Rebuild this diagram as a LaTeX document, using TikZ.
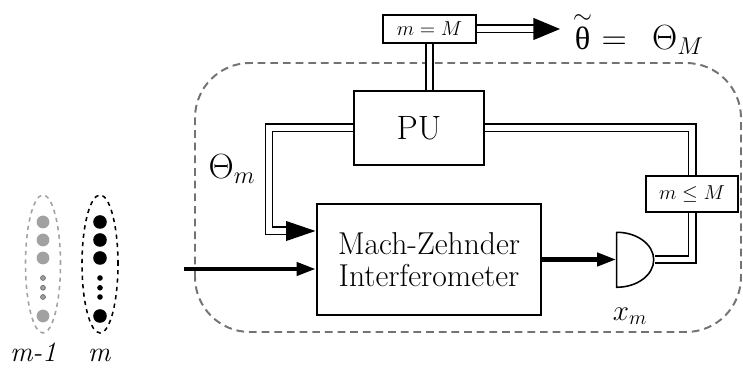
\documentclass[tikz,border=0pt]{standalone}
\usepackage{amsmath, amssymb}
\usepackage{fontspec}
\newfontfamily\grkfont{Liberation Serif}
\usepackage{xcolor}
\usepackage{tikz}
\usetikzlibrary{arrows.meta, positioning, calc}
\definecolor{dotgray}{gray}{0.63}
\definecolor{framegray}{gray}{0.45}
\tikzset{
    block/.style={rectangle, draw, line width=1.1pt, fill=white, inner sep=0pt},
    testbox/.style={rectangle, draw, line width=1.1pt, fill=white, inner sep=0pt, minimum height=0.7cm, font=\fontsize{15}{17}\selectfont},
    feed/.style={double, line width=1.2pt, double distance=4pt, shorten <=0.5pt, shorten >=0.5pt},
    feedarrow/.style={feed, -{Triangle[length=21pt, width=14pt]}},
    beam/.style={line width=3.5pt, -{Triangle[length=14pt, width=9pt]}},
    tag/.style={inner sep=0pt},
    shot/.style={dashed, line width=1.1pt},
}

\begin{document}
\begin{tikzpicture}
\useasboundingbox (0,0) rectangle (18.575,9.325);

% === FRAME ===
\draw[framegray, line width=1.4pt, dash pattern=on 5.5pt off 3.5pt, rounded corners=1.375cm] (4.875,1.025) rectangle (18.525,7.75);

% === BLOCKS ===
\node[block, minimum width=5.6cm, minimum height=2.775cm, align=center, font=\fontsize{22.5}{23}\selectfont] (mzi) at (10.725,2.8375) {Mach-Zehnder\\Interferometer};
\node[block, minimum width=3.25cm, minimum height=1.85cm, font=\fontsize{24}{28}\selectfont] (pu) at (10.475,6.125) {PU};
\node[testbox, minimum width=2.325cm] (stop) at (10.7375,8.6) {$m = M$};
\node[testbox, minimum width=2.3cm, minimum height=0.9cm] (cont) at (17.3,4.475) {$m \leq M$};

% detector
\node[minimum width=0.925cm, minimum height=1.375cm, inner sep=0pt] (det) at (15.8875,2.8375) {};
\draw[line width=1.1pt, fill=white] (det.north west) -- (det.south west) arc[start angle=-90, end angle=90, x radius=0.925cm, y radius=0.6875cm] -- cycle;

% === BEAMS ===
\coordinate (src) at (4.6,2.6);
\draw[beam] (src) -- (src -| mzi.west);
\draw[beam] (mzi.east) -- (det.west);

% === FEEDBACK ===
\coordinate (bend) at (6.725,3.55);
\draw[feedarrow] (pu.west) -| (bend) -- (bend -| mzi.west);
\draw[feed] (pu.east) -| (cont.north);
\draw[feed] (cont.south) |- (det.east);
\draw[feed] (stop.south) -- (stop.south |- pu.north);

% estimate
\node[font=\fontsize{23}{27}\selectfont, inner sep=0.3cm, right=2.1cm of stop, yshift=-0.1cm] (est) {$\overset{\raisebox{-2.5pt}{$\scriptstyle\sim$}}{\hbox{\grkfont θ}} =\;\, \Theta_M$};
\draw[feed, -{Triangle[length=19pt, width=15.5pt]}] (stop.east) -- (stop.east -| est.west);

% === LABELS ===
\node[tag, font=\fontsize{23}{27}\selectfont] (thetam) at (5.8,5.1) {$\Theta_m$};
\node[tag, font=\fontsize{20}{24}\selectfont] (xm) at (15.75,1.425) {$x_m$};

% === PHOTONS ===
\draw[shot, dotgray] (1.075,2.725) ellipse[x radius=0.4375, y radius=1.725];
\draw[shot] (2.5,2.725) ellipse[x radius=0.45, y radius=1.725];
\fill[dotgray] (1.075,3.775) circle (0.16) (1.075,3.325) circle (0.16) (1.075,2.875) circle (0.16) (1.075,1.425) circle (0.16);
\filldraw[fill=dotgray, draw=framegray, line width=0.6pt] (1.075,2.375) circle (0.06) (1.075,2.13) circle (0.06) (1.075,1.9) circle (0.06);
\fill (2.5,3.775) circle (0.17) (2.5,3.325) circle (0.17) (2.5,2.875) circle (0.17) (2.5,1.425) circle (0.17);
\fill (2.5,2.375) circle (0.07) (2.5,2.13) circle (0.07) (2.5,1.9) circle (0.07);
\node[tag, anchor=base, font=\fontsize{20}{24}\selectfont\itshape] (prev) at (0.83,0.275) {m-1};
\node[tag, anchor=base, font=\fontsize{20}{24}\selectfont\itshape] (curr) at (2.48,0.275) {m};

\end{tikzpicture}
\end{document}
